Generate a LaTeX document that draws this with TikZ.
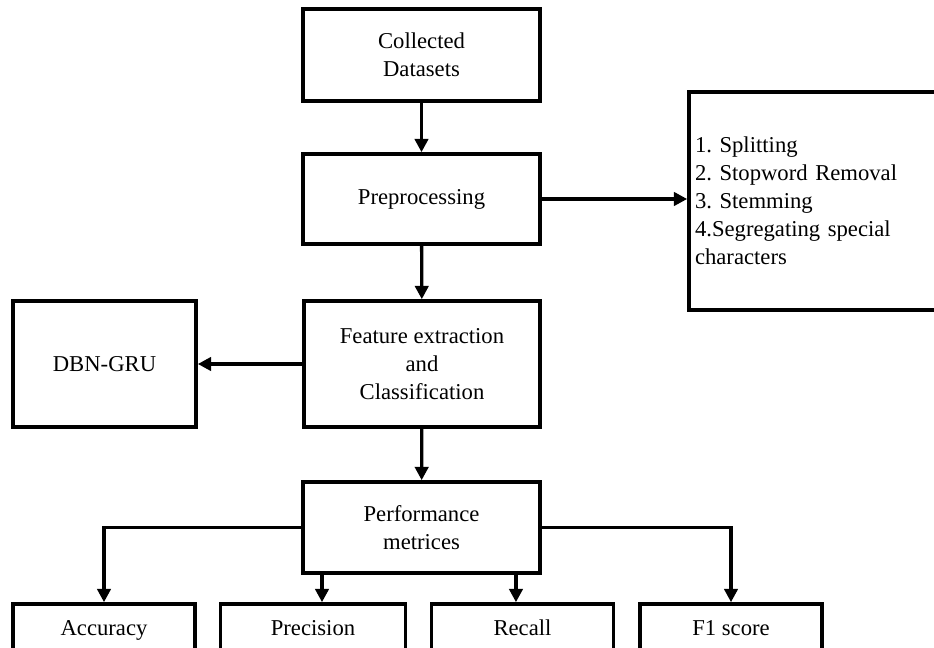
\documentclass[tikz,border=0pt]{standalone}
\usepackage{fontspec}
\setmainfont{Liberation Serif}
\usepackage{tikz}
\usetikzlibrary{arrows.meta,positioning}

\tikzset{
  box/.style={draw,line width=2.7pt,align=center,inner sep=3pt},
  metric/.style={box,minimum width=136.5pt,minimum height=39pt,text height=12pt,text depth=4pt},
  flow/.style={line width=2.5pt,-{Triangle[length=10pt,width=10pt]}}
}

\begin{document}
\frenchspacing
\begin{tikzpicture}[x=0.75pt,y=-0.75pt,font=\fontsize{17}{21}\selectfont]
  \useasboundingbox (0,0) rectangle (934,648);
  \clip (0,0) rectangle (934,648);
  % main column
  \node[box,minimum width=177.75pt,minimum height=69pt] (data) at (421.5,55) {Collected\\Datasets};
  \node[box,minimum width=177.75pt,minimum height=67.5pt] (prep) at (421.5,199) {Preprocessing};
  \node[box,minimum width=177pt,minimum height=94.5pt] (feat) at (422,364) {Feature extraction\\and\\Classification};
  \node[box,minimum width=177.75pt,minimum height=68.25pt] (perf) at (421.5,527.5) {Performance\\metrices};
  % side boxes
  \node[box,align=left,text width=187.5pt,inner xsep=4.5pt,minimum height=163.5pt] (steps) at (820,201)
    {1. Splitting\\2. Stopword Removal\\3. Stemming\\4.Segregating special\\characters};
  \node[box,minimum width=137.25pt,minimum height=94.5pt] (dbn) at (104.5,364) {DBN-GRU};
  % metrics
  \node[metric] (acc) at (104,630) {Accuracy};
  \node[metric,minimum width=139pt] (prec) at (313,630) {Precision};
  \node[metric] (rec) at (522.5,630) {Recall};
  \node[metric] (fone) at (731,630) {F1 score};

  \draw[flow] (data) -- (prep);
  \draw[flow] (prep) -- (feat);
  \draw[flow] (feat) -- (perf);
  \draw[flow] (prep.east) -- (steps.west |- prep.east);
  \draw[flow] (feat) -- (dbn);
  \draw[flow] (perf.west) -| (acc.north);
  \draw[flow] (perf.east) -| (fone.north);
  \draw[flow] ([xshift=6.75pt]prec.north |- perf.south) -- ([xshift=6.75pt]prec.north);
  \draw[flow] ([xshift=-4.9pt]rec.north |- perf.south) -- ([xshift=-4.9pt]rec.north);
\end{tikzpicture}
\end{document}
